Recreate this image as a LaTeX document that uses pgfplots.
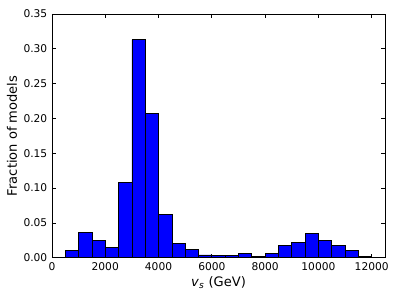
\documentclass[border=0pt]{standalone}
\usepackage{pgfplots}
\pgfplotsset{compat=1.18}
\usepackage{fontspec}
\setmainfont{DejaVu Sans}
\usetikzlibrary{calc}
\begin{document}
\begin{tikzpicture}
\begin{axis}[name=ax,
  scale only axis, width=250pt, height=183pt,
  xmin=0, xmax=12500, ymin=0, ymax=0.35,
  xtick={0,2000,...,12000},
  ytick={0,0.05,...,0.35},
  tick align=inside, tick pos=both,
  major tick length=3pt,
  scaled ticks=false,
  xticklabel style={/pgf/number format/.cd,set thousands separator={},assume math mode=true},
  yticklabel style={/pgf/number format/.cd,fixed,fixed zerofill,precision=2,assume math mode=true},
  ticklabel style={font=\fontsize{8}{9}\selectfont},
  label style={font=\fontsize{9.8}{11}\selectfont},
  xlabel={\textit{v}\textsubscript{\textit{s}} (GeV)},
  ylabel={Fraction of models},
  xlabel style={yshift=2pt},
  ylabel style={yshift=-2pt},
  axis line style={black, line width=0.6pt},
  every tick/.style={black, line width=0.5pt},
]
\addplot[ybar interval, fill=blue, draw=black, line width=0.5pt] table[x=x,y=y] {
x y
500 0.010
1000 0.036
1500 0.0255
2000 0.015
2500 0.108
3000 0.313
3500 0.207
4000 0.0624
4500 0.021
5000 0.012
5500 0.004
6000 0.003
6500 0.003
7000 0.0063
7500 0.0015
8000 0.006
8500 0.0173
9000 0.0226
9500 0.035
10000 0.0255
10500 0.018
11000 0.010
11500 0.0025
12000 0.0025
};
\end{axis}
\pgfresetboundingbox
\path[use as bounding box] ($(ax.south west)+(-39pt,-31.5pt)$) rectangle ($(ax.north east)+(11.25pt,10.5pt)$);
\end{tikzpicture}
\end{document}
